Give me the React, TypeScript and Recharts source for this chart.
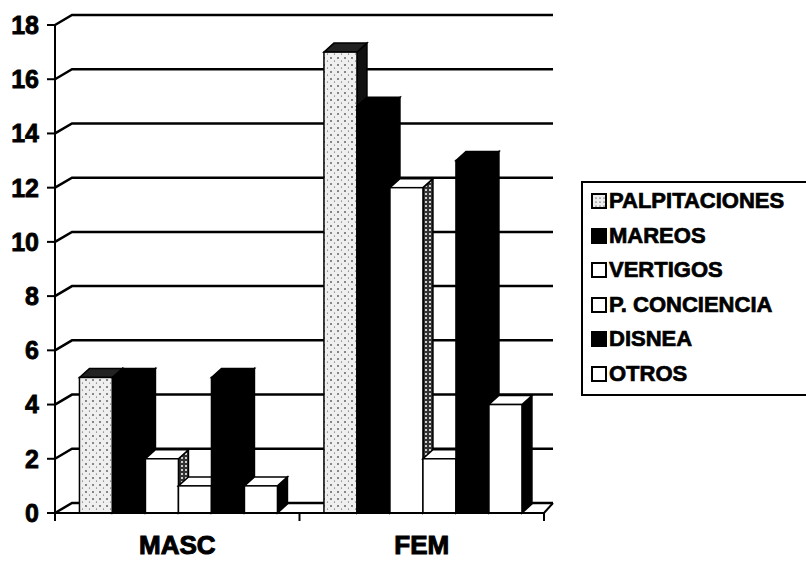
import React from 'react';
import { BarChart, Bar, XAxis, YAxis, CartesianGrid } from 'recharts';

// values
const categories = ['MASC', 'FEM'];
const palpitaciones = [5, 17];
const mareos = [5, 15];
const vertigos = [2, 12];
const pConciencia = [1, 2];
const disnea = [5, 13];
const otros = [1, 4];
const yTicks = [0, 2, 4, 6, 8, 10, 12, 14, 16, 18];

const series = [
  { key: 'palp', name: 'PALPITACIONES', values: palpitaciones, front: 'url(#dots)', top: '#222', side: '#111', mark: 'dots' },
  { key: 'mar', name: 'MAREOS', values: mareos, front: '#000', top: '#000', side: '#000', mark: '#000' },
  { key: 'ver', name: 'VERTIGOS', values: vertigos, front: '#fff', top: '#fff', side: 'url(#darkdots)', mark: '#fff' },
  { key: 'pcon', name: 'P. CONCIENCIA', values: pConciencia, front: '#fff', top: '#fff', side: '#000', mark: '#fff' },
  { key: 'dis', name: 'DISNEA', values: disnea, front: '#000', top: '#000', side: '#000', mark: '#000' },
  { key: 'otr', name: 'OTROS', values: otros, front: '#fff', top: '#fff', side: '#000', mark: '#fff' },
];

const data = categories.map((cat, i) => {
  const row: Record<string, any> = { cat };
  series.forEach(s => { row[s.key] = s.values[i]; });
  return row;
});

const W = 806;
const H = 562;
const Y_AXIS_W = 55;
const M_RIGHT = 262;
const BAND = (W - Y_AXIS_W - M_RIGHT) / categories.length;
const DX = 10; // bar depth
const DY = 9;
const WALL_DX = 17; // back wall offset
const WALL_DY = 10;
const FONT = '"Liberation Sans", Arial, sans-serif';

const make3D = (s: typeof series[number]) => (props: any) => {
  const { x, y, width, height } = props;
  if (!height) return <g />;
  const side = `M${x + width},${y} L${x + width + DX},${y - DY} L${x + width + DX},${y + height - DY} L${x + width},${y + height} Z`;
  const top = `M${x},${y} L${x + DX},${y - DY} L${x + width + DX},${y - DY} L${x + width},${y} Z`;
  return (
    <g stroke="#000" strokeWidth={1.5}>
      <path d={side} fill={s.side} />
      <path d={top} fill={s.top} />
      <rect x={x} y={y} width={width} height={height} fill={s.front} />
    </g>
  );
};

const gridLine = (p: any) => (
  <path
    key={`g-${p.index}-${p.y1}`}
    d={`M${p.x1},${p.y1} L${p.x1 + WALL_DX},${p.y1 - WALL_DY} L${p.x2 + 9},${p.y1 - WALL_DY}`}
    fill="none"
    stroke="#000"
    strokeWidth={2.5}
  />
);

const XTick = (props: any) => {
  const { x, y, payload, index } = props;
  const left = x - BAND / 2;
  const right = x + BAND / 2;
  return (
    <g>
      <line x1={left} y1={y} x2={left} y2={y + 8} stroke="#000" strokeWidth={2} />
      {index === categories.length - 1 && (
        <>
          <line x1={right} y1={y} x2={right} y2={y + 8} stroke="#000" strokeWidth={2} />
          <line x1={right} y1={y} x2={right + 9} y2={y - WALL_DY} stroke="#000" strokeWidth={2} />
        </>
      )}
      <text x={x} y={y + 41} textAnchor="middle" fontFamily={FONT} fontWeight="bold" fontSize={26}
        fill="#000" stroke="#000" strokeWidth={1}>
        {payload.value}
      </text>
    </g>
  );
};

const LegendBox = () => (
  <div
    style={{
      position: 'absolute',
      left: 581,
      top: 181,
      width: 240,
      border: '2px solid #000',
      borderRight: 'none',
      padding: '1px 0 3px 8px',
      background: '#fff',
      fontFamily: FONT,
      fontWeight: 'bold',
      fontSize: 22,
      WebkitTextStroke: '0.7px #000',
      boxSizing: 'border-box',
    }}
  >
    {series.map(s => (
      <div key={s.key} style={{ display: 'flex', alignItems: 'center', height: 34.5, whiteSpace: 'nowrap' }}>
        <svg width={16} height={16} style={{ marginRight: 2 }}>
          <defs>
            <pattern id={`ld-${s.key}`} width={4} height={4} patternUnits="userSpaceOnUse">
              <rect width={4} height={4} fill="#eee" />
              <circle cx={1} cy={1} r={0.6} fill="#000" />
            </pattern>
          </defs>
          <rect x={1} y={1} width={14} height={14} fill={s.mark === 'dots' ? `url(#ld-${s.key})` : s.mark} stroke="#000" strokeWidth={2} />
        </svg>
        <span>{s.name}</span>
      </div>
    ))}
  </div>
);

export default function App() {
  return (
    <div style={{ position: 'absolute', left: 0, top: 0, width: W, height: H, background: '#fff', overflow: 'hidden' }}>
      <BarChart
        width={W}
        height={H}
        data={data}
        margin={{ top: 25, right: M_RIGHT, bottom: 0, left: 0 }}
        barCategoryGap="10%"
        barGap={0}
      >
        <defs>
          <pattern id="dots" width={7} height={7} patternUnits="userSpaceOnUse">
            <rect width={7} height={7} fill="#efefef" />
            <circle cx={2} cy={2} r={0.8} fill="#000" />
            <circle cx={5.5} cy={5} r={0.6} fill="#444" />
          </pattern>
          <pattern id="darkdots" width={4} height={4} patternUnits="userSpaceOnUse">
            <rect width={4} height={4} fill="#333" />
            <circle cx={2} cy={2} r={1} fill="#fff" />
          </pattern>
        </defs>
        <CartesianGrid vertical={false} horizontal={gridLine} />
        <XAxis
          dataKey="cat"
          height={49}
          tickLine={false}
          tickSize={0}
          tickMargin={0}
          axisLine={{ stroke: '#000', strokeWidth: 2 }}
          tick={<XTick />}
          interval={0}
        />
        <YAxis
          width={Y_AXIS_W}
          domain={[0, 18]}
          ticks={yTicks}
          interval={0}
          tickSize={8}
          tickMargin={8}
          tickLine={{ stroke: '#000', strokeWidth: 2 }}
          axisLine={{ stroke: '#000', strokeWidth: 2 }}
          tick={{ fill: '#000', stroke: '#000', strokeWidth: 0.8, fontFamily: FONT, fontWeight: 'bold', fontSize: 25 }}
        />
        {series.map(s => (
          <Bar key={s.key} dataKey={s.key} name={s.name} shape={make3D(s)} isAnimationActive={false} />
        ))}
      </BarChart>
      <LegendBox />
    </div>
  );
}
